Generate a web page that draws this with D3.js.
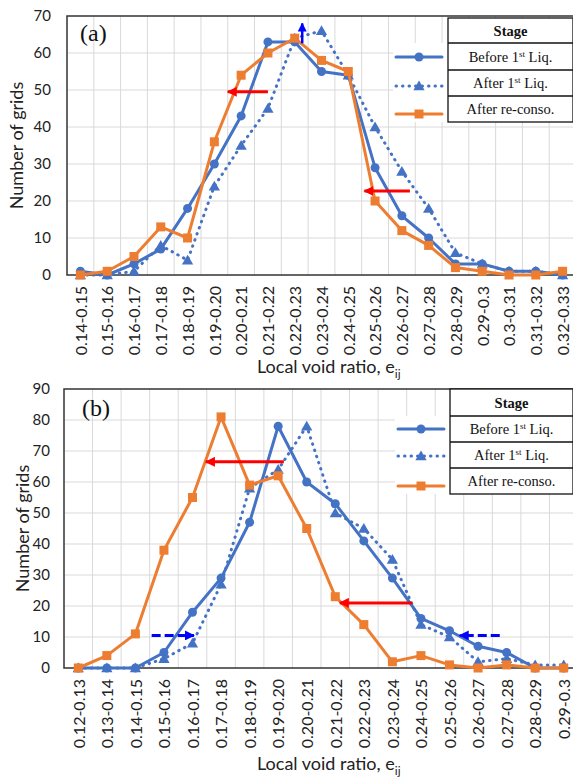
<!DOCTYPE html>
<html><head><meta charset="utf-8">
<script src="https://cdn.jsdelivr.net/npm/d3@7"></script>
<style>body{margin:0;background:#fff} svg{display:block}</style>
</head><body>
<svg id="chart" width="573" height="778"></svg>
<script>
// ---------- data ----------
const categoriesA = ["0.14-0.15","0.15-0.16","0.16-0.17","0.17-0.18","0.18-0.19","0.19-0.20","0.20-0.21","0.21-0.22","0.22-0.23","0.23-0.24","0.24-0.25","0.25-0.26","0.26-0.27","0.27-0.28","0.28-0.29","0.29-0.3","0.3-0.31","0.31-0.32","0.32-0.33"];
const beforeA  = [1,0,3,7,18,30,43,63,63,55,54,29,16,10,3,3,1,1,0];
const afterA   = [0,0,1,8,4,24,35,45,64,66,54,40,28,18,6,3,1,1,0];
const reconsoA = [0,1,5,13,10,36,54,60,64,58,55,20,12,8,2,1,0,0,1];
const yTicksA  = [0,10,20,30,40,50,60,70];

const categoriesB = ["0.12-0.13","0.13-0.14","0.14-0.15","0.15-0.16","0.16-0.17","0.17-0.18","0.18-0.19","0.19-0.20","0.20-0.21","0.21-0.22","0.22-0.23","0.23-0.24","0.24-0.25","0.25-0.26","0.26-0.27","0.27-0.28","0.28-0.29","0.29-0.3"];
const beforeB  = [0,0,0,5,18,29,47,78,60,53,41,29,16,12,7,5,0,0];
const afterB   = [0,0,0,3,8,27,58,64,78,50,45,35,14,10,2,3,1,1];
const reconsoB = [0,4,11,38,55,81,59,62,45,23,14,2,4,1,0,1,0,0];
const yTicksB  = [0,10,20,30,40,50,60,70,80,90];

const seriesNames = ["Before 1", "After 1", "After re-conso."];
// annotation arrows: x in category-index units, y in data units
const arrowsA = [
  {x1:7.0,  x2:5.5,  y1:49.5, y2:49.5, kind:"red"},
  {x1:12.3, x2:10.6, y1:22.7, y2:22.7, kind:"red"},
  {x1:8.28, x2:8.28, y1:62.6, y2:68.0, kind:"blue"}
];
const arrowsB = [
  {x1:7.2,   x2:4.47,  y1:66.5, y2:66.5, kind:"red"},
  {x1:11.7,  x2:9.16,  y1:21,   y2:21,   kind:"red"},
  {x1:2.57,  x2:4.05,  y1:10.5, y2:10.5, kind:"bluedash"},
  {x1:14.76, x2:13.36, y1:10.5, y2:10.5, kind:"bluedash"}
];

// ---------- styles ----------
const BLUE = "#4472C4", ORANGE = "#ED7D31", RED = "#FF0000", DBLUE = "#0000FF";
const svg = d3.select("#chart");
const defs = svg.append("defs");
function mkArrow(id, color, w, h) {
  defs.append("marker").attr("id", id).attr("markerUnits", "userSpaceOnUse")
    .attr("viewBox", "0 0 10 10").attr("refX", 9).attr("refY", 5)
    .attr("markerWidth", w).attr("markerHeight", h).attr("orient", "auto")
    .append("path").attr("d", "M0,0 L10,5 L0,10 z").attr("fill", color);
}
mkArrow("arRed", RED, 10, 10);
mkArrow("arBlue", DBLUE, 9, 9);
mkArrow("arBlueD", DBLUE, 10, 10);

function drawMarker(g, kind, cx, cy) {
  if (kind === 0) g.append("circle").attr("cx", cx).attr("cy", cy).attr("r", 4.5).attr("fill", BLUE);
  else if (kind === 1) g.append("path").attr("d", d3.symbol(d3.symbolTriangle, 55)()).attr("transform", `translate(${cx},${cy + 1})`).attr("fill", BLUE);
  else g.append("rect").attr("x", cx - 4.5).attr("y", cy - 4.5).attr("width", 9).attr("height", 9).attr("fill", ORANGE);
}
const lineStyles = [
  {stroke: BLUE, dash: null, cap: "round"},
  {stroke: BLUE, dash: "0.5 6", cap: "round"},
  {stroke: ORANGE, dash: null, cap: "round"}
];

function drawPanel(cfg) {
  const g = svg.append("g");
  const x = d3.scalePoint().domain(cfg.cats).range([cfg.left, cfg.right]).padding(0.5);
  const y = d3.scaleLinear().domain([0, cfg.ymax]).range([cfg.bottom, cfg.top]);
  const step = x.step();
  const xi = i => x(cfg.cats[0]) + i * step;

  // grid
  const grid = g.append("g").attr("stroke", "#d9d9d9").attr("stroke-width", 1);
  cfg.yTicks.filter(t => t > 0 && t < cfg.ymax).forEach(t =>
    grid.append("line").attr("x1", cfg.left).attr("x2", cfg.right).attr("y1", y(t)).attr("y2", y(t)));
  d3.range(1, cfg.cats.length).forEach(k =>
    grid.append("line").attr("x1", cfg.left + k * step).attr("x2", cfg.left + k * step).attr("y1", cfg.top).attr("y2", cfg.bottom));

  // legend white box behind samples
  g.append("rect").attr("x", cfg.leg.sx0 - 3).attr("y", cfg.leg.rows[1]).attr("width", cfg.leg.tx - cfg.leg.sx0 + 3)
    .attr("height", cfg.leg.rows[4] - cfg.leg.rows[1]).attr("fill", "#fff");

  // frame
  g.append("rect").attr("x", cfg.left).attr("y", cfg.top).attr("width", cfg.right - cfg.left).attr("height", cfg.bottom - cfg.top)
    .attr("fill", "none").attr("stroke", "#333").attr("stroke-width", 1.5);

  // y axis
  const ya = g.append("g").attr("transform", `translate(${cfg.left},0)`)
    .call(d3.axisLeft(y).tickValues(cfg.yTicks).tickSize(0).tickPadding(cfg.yPad));
  ya.select(".domain").remove();
  ya.selectAll("text").attr("font-family", "Lato").attr("font-size", 15).attr("fill", "#222");

  // x axis labels
  const xa = g.append("g").attr("transform", `translate(0,${cfg.bottom})`)
    .call(d3.axisBottom(x).tickSize(0));
  xa.select(".domain").remove();
  xa.selectAll("text").attr("font-family", "Lato").attr("font-size", 16).attr("fill", "#222")
    .attr("transform", "rotate(-90)").attr("text-anchor", "end").attr("dy", "0.36em").attr("x", -11).attr("y", 0);

  // axis titles
  g.append("text").attr("transform", `translate(${cfg.yTitleX},${(cfg.top + cfg.bottom) / 2 + cfg.yTitleDy}) rotate(-90)`)
    .attr("text-anchor", "middle").attr("font-family", "Lato").attr("font-size", 18).attr("fill", "#222").text("Number of grids");
  const xt = g.append("text").attr("x", cfg.xTitleX).attr("y", cfg.xTitleY).attr("text-anchor", "start")
    .attr("font-family", "Lato").attr("font-size", 18).attr("fill", "#222");
  xt.append("tspan").text("Local void ratio, e");
  xt.append("tspan").attr("font-size", 12).attr("dy", 5).text("ij");

  // series
  const series = [cfg.before, cfg.after, cfg.reconso];
  series.forEach((vals, si) => {
    const st = lineStyles[si];
    const line = d3.line().x((d, i) => x(cfg.cats[i])).y(d => y(d));
    g.append("path").datum(vals).attr("d", line).attr("fill", "none").attr("stroke", st.stroke)
      .attr("stroke-width", 3).attr("stroke-linejoin", "round").attr("stroke-linecap", st.cap)
      .attr("stroke-dasharray", st.dash);
    vals.forEach((v, i) => drawMarker(g, si, x(cfg.cats[i]), y(v)));
  });

  // arrows
  cfg.arrows.forEach(a => {
    const l = g.append("line").attr("x1", xi(a.x1)).attr("x2", xi(a.x2)).attr("y1", y(a.y1)).attr("y2", y(a.y2))
      .attr("stroke-width", 3);
    if (a.kind === "red") l.attr("stroke", RED).attr("marker-end", "url(#arRed)");
    else if (a.kind === "blue") l.attr("stroke", DBLUE).attr("stroke-width", 2.5).attr("marker-end", "url(#arBlue)");
    else l.attr("stroke", DBLUE).attr("stroke-dasharray", "9 4").attr("marker-end", "url(#arBlueD)");
  });

  // panel label
  g.append("text").attr("x", cfg.labX).attr("y", cfg.labY).attr("font-family", "Liberation Serif").attr("font-size", 24)
    .attr("fill", "#111").text(cfg.label);

  // legend table
  const L = cfg.leg;
  const tbl = g.append("g");
  tbl.append("rect").attr("x", L.tx).attr("y", L.rows[0]).attr("width", L.tr - L.tx).attr("height", L.rows[4] - L.rows[0])
    .attr("fill", "#fff").attr("stroke", "#111").attr("stroke-width", 1.3);
  [1, 2, 3].forEach(k => tbl.append("line").attr("x1", L.tx).attr("x2", L.tr).attr("y1", L.rows[k]).attr("y2", L.rows[k])
    .attr("stroke", "#111").attr("stroke-width", 1.3));
  const cx = (L.tx + L.tr) / 2;
  const tf = t => t.attr("font-family", "Liberation Serif").attr("font-size", 14.5).attr("fill", "#111").attr("text-anchor", "middle");
  tf(tbl.append("text").attr("x", cx).attr("y", (L.rows[0] + L.rows[1]) / 2 + 5).attr("font-weight", "bold").text("Stage"));
  seriesNames.forEach((nm, k) => {
    const ty = (L.rows[k + 1] + L.rows[k + 2]) / 2 + 5;
    const t = tf(tbl.append("text").attr("x", cx).attr("y", ty));
    if (k < 2) {
      t.append("tspan").text(nm);
      t.append("tspan").attr("font-size", 9).attr("dy", -5).text("st");
      t.append("tspan").attr("dy", 5).text(" Liq.");
    } else t.text(nm);
    const sy = L.sy[k];
    const st = lineStyles[k];
    tbl.append("line").attr("x1", L.sx0).attr("x2", L.sx1).attr("y1", sy).attr("y2", sy).attr("stroke", st.stroke)
      .attr("stroke-width", 3).attr("stroke-linecap", "round").attr("stroke-dasharray", st.dash);
    drawMarker(tbl, k, (L.sx0 + L.sx1) / 2, sy);
  });
}

drawPanel({
  cats: categoriesA, before: beforeA, after: afterA, reconso: reconsoA, yTicks: yTicksA, ymax: 70,
  left: 67, right: 576, top: 16, bottom: 275, yPad: 16,
  yTitleX: 23, yTitleDy: 0, xTitleX: 257, xTitleY: 373,
  arrows: arrowsA, label: "(a)", labX: 80, labY: 41,
  leg: {tx: 448, tr: 573, rows: [18, 43, 70, 96, 122], sx0: 396, sx1: 442, sy: [57, 86, 114]}
});
drawPanel({
  cats: categoriesB, before: beforeB, after: afterB, reconso: reconsoB, yTicks: yTicksB, ymax: 90,
  left: 64, right: 578, top: 389, bottom: 668, yPad: 14,
  yTitleX: 29, yTitleDy: 0, xTitleX: 257, xTitleY: 770,
  arrows: arrowsB, label: "(b)", labX: 82, labY: 416,
  leg: {tx: 450, tr: 573, rows: [389, 416, 442, 468, 494], sx0: 398, sx1: 444, sy: [429, 456, 486]}
});
</script>
</body></html>
